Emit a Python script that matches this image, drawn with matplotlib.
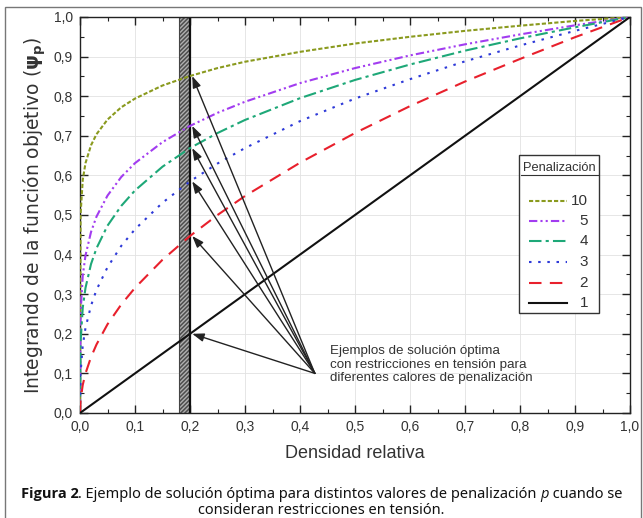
import numpy as np
import matplotlib
matplotlib.use("Agg")
import matplotlib.pyplot as plt
from matplotlib.patches import Rectangle
from matplotlib.ticker import MultipleLocator, FuncFormatter

plt.rcParams['font.family'] = ['Liberation Sans', 'DejaVu Sans']

# relative density (x) and curve values
dens = [0.0, 0.001, 0.005, 0.01, 0.02, 0.03, 0.05, 0.075, 0.1, 0.15, 0.2,
        0.25, 0.3, 0.4, 0.5, 0.6, 0.7, 0.8, 0.9, 1.0]
psi_10 = [0.0, 0.501, 0.589, 0.631, 0.676, 0.704, 0.741, 0.772, 0.794, 0.827, 0.851,
          0.871, 0.887, 0.912, 0.933, 0.950, 0.965, 0.978, 0.990, 1.0]
psi_5 = [0.0, 0.251, 0.347, 0.398, 0.457, 0.496, 0.549, 0.596, 0.631, 0.684, 0.725,
         0.758, 0.786, 0.833, 0.871, 0.903, 0.931, 0.956, 0.979, 1.0]
psi_4 = [0.0, 0.178, 0.266, 0.316, 0.376, 0.416, 0.473, 0.523, 0.562, 0.622, 0.669,
         0.707, 0.740, 0.795, 0.841, 0.880, 0.915, 0.946, 0.974, 1.0]
psi_3 = [0.0, 0.100, 0.171, 0.215, 0.271, 0.311, 0.368, 0.422, 0.464, 0.531, 0.585,
         0.630, 0.669, 0.737, 0.794, 0.843, 0.888, 0.928, 0.965, 1.0]
psi_2 = [0.0, 0.032, 0.071, 0.100, 0.141, 0.173, 0.224, 0.274, 0.316, 0.387, 0.447,
         0.500, 0.548, 0.632, 0.707, 0.775, 0.837, 0.894, 0.949, 1.0]
psi_1 = [0.0, 0.001, 0.005, 0.01, 0.02, 0.03, 0.05, 0.075, 0.1, 0.15, 0.2,
         0.25, 0.3, 0.4, 0.5, 0.6, 0.7, 0.8, 0.9, 1.0]

labels = ['10', '5', '4', '3', '2', '1']
series = [psi_10, psi_5, psi_4, psi_3, psi_2, psi_1]
colors = ['#8a9a1e', '#a23cf0', '#1ea878', '#2e3ad8', '#e8202c', '#111111']
dashes = [(2, 1), (4, 1.5, 1, 1.5, 1, 1.5), (6, 2, 1.5, 2), (1.2, 3.2), (6, 4), ()]

# constraint band and arrow targets
band = (0.18, 0.20)
x_target = 0.2
arrow_tail = (0.427, 0.10)
target_vals = [0.851, 0.725, 0.669, 0.585, 0.447, 0.2]

fig = plt.figure(figsize=(6.43, 5.18), dpi=100)
ax = fig.add_axes([80 / 643, 1 - 413 / 518, 550 / 643, 396 / 518])

ax.axvspan(band[0], band[1], facecolor='#4e4e4e', edgecolor='#b0b0b0',
           hatch='////////', linewidth=0, zorder=1)
ax.axvline(band[0], color='#444444', lw=0.8, zorder=1)
ax.axvline(band[1], color='#111111', lw=1.6, zorder=1)

for ys, c, d in zip(series, colors, dashes):
    ln, = ax.plot(dens, ys, color=c, lw=1.5, zorder=3)
    if d:
        ln.set_dashes(d)

for yv in target_vals:
    ax.annotate('', xy=(x_target + 0.004, yv), xytext=arrow_tail,
                arrowprops=dict(arrowstyle='-|>,head_length=0.7,head_width=0.25',
                                color='#222222', lw=1.0, shrinkA=0, shrinkB=0),
                zorder=4)

ax.text(0.455, 0.172, 'Ejemplos de solución óptima\ncon restricciones en tensión para\n'
        'diferentes calores de penalización', fontsize=9.6, color='#333333',
        va='top', ha='left', linespacing=1.2)

ax.set_xlim(0, 1)
ax.set_ylim(0, 1)
ax.xaxis.set_major_locator(MultipleLocator(0.1))
ax.yaxis.set_major_locator(MultipleLocator(0.1))
ax.xaxis.set_minor_locator(MultipleLocator(0.05))
ax.yaxis.set_minor_locator(MultipleLocator(0.05))
fmt = FuncFormatter(lambda v, p: f'{v:.1f}'.replace('.', ','))
ax.xaxis.set_major_formatter(fmt)
ax.yaxis.set_major_formatter(fmt)
ax.tick_params(which='both', direction='in', top=True, right=True, color='#222222')
ax.tick_params(which='major', length=6, width=1, labelsize=10, labelcolor='#333333', pad=5)
ax.tick_params(which='minor', length=3, width=0.8)
ax.grid(True, which='major', color='#e2e2e2', lw=0.6)
ax.set_axisbelow(True)
for s in ax.spines.values():
    s.set_color('#222222')
    s.set_linewidth(1.0)

ax.set_xlabel('Densidad relativa', fontsize=13, color='#333333', labelpad=8)
ax.set_ylabel(r'Integrando de la función objetivo ($\mathbf{\psi_p}$)', fontsize=13.5,
              family='DejaVu Sans', color='#333333', labelpad=4)

# manual legend
box = Rectangle((0.798, 0.2525), 0.146, 0.3995, transform=ax.transAxes,
                facecolor='white', edgecolor='#333333', lw=1.0, zorder=5)
ax.add_patch(box)
ax.text(0.871, 0.618, 'Penalización', transform=ax.transAxes, fontsize=9.3,
        ha='center', va='center', color='#333333', zorder=6)
ax.plot([0.801, 0.941], [0.600, 0.600], transform=ax.transAxes, color='#333333',
        lw=0.8, zorder=6)
ly = [0.535, 0.485, 0.434, 0.381, 0.328, 0.278]
for lab, c, d, yy in zip(labels, colors, dashes, ly):
    ln, = ax.plot([0.816, 0.885], [yy, yy], transform=ax.transAxes, color=c,
                  lw=1.5, zorder=6)
    if d:
        ln.set_dashes(d)
    ax.text(0.924, yy, lab, transform=ax.transAxes, fontsize=11, ha='right',
            va='center', color='#333333', zorder=6)

# figure frame
fig.patches.append(Rectangle((5 / 643, -0.01), 636 / 643, 1 - 7 / 518 + 0.01,
                             transform=fig.transFigure, fill=False,
                             edgecolor='#777777', lw=1.0))

# caption: first line built from pieces (bold, regular, italic)
cap_style = dict(fontsize=10.5, color='#111111', va='center')
pieces = [('Figura 2', dict(family='Open Sans', weight='bold')),
          ('. Ejemplo de solución óptima para distintos valores de penalización ',
           dict(family='Noto Sans')),
          ('p', dict(family='Open Sans', style='italic')),
          (' cuando se', dict(family='Noto Sans'))]
renderer = fig.canvas.get_renderer()
y1 = 1 - 494 / 518
texts = []
for s, extra in pieces:
    t = fig.text(0, y1, s, ha='left', **cap_style, **extra)
    texts.append(t)
widths = [t.get_window_extent(renderer).width / fig.bbox.width for t in texts]
x = 0.5 - sum(widths) / 2
for t, w in zip(texts, widths):
    t.set_x(x)
    x += w
fig.text(0.5, 1 - 510 / 518, 'consideran restricciones en tensión.', ha='center',
         family='Noto Sans', **cap_style)

fig.savefig('out.png', dpi=100)
